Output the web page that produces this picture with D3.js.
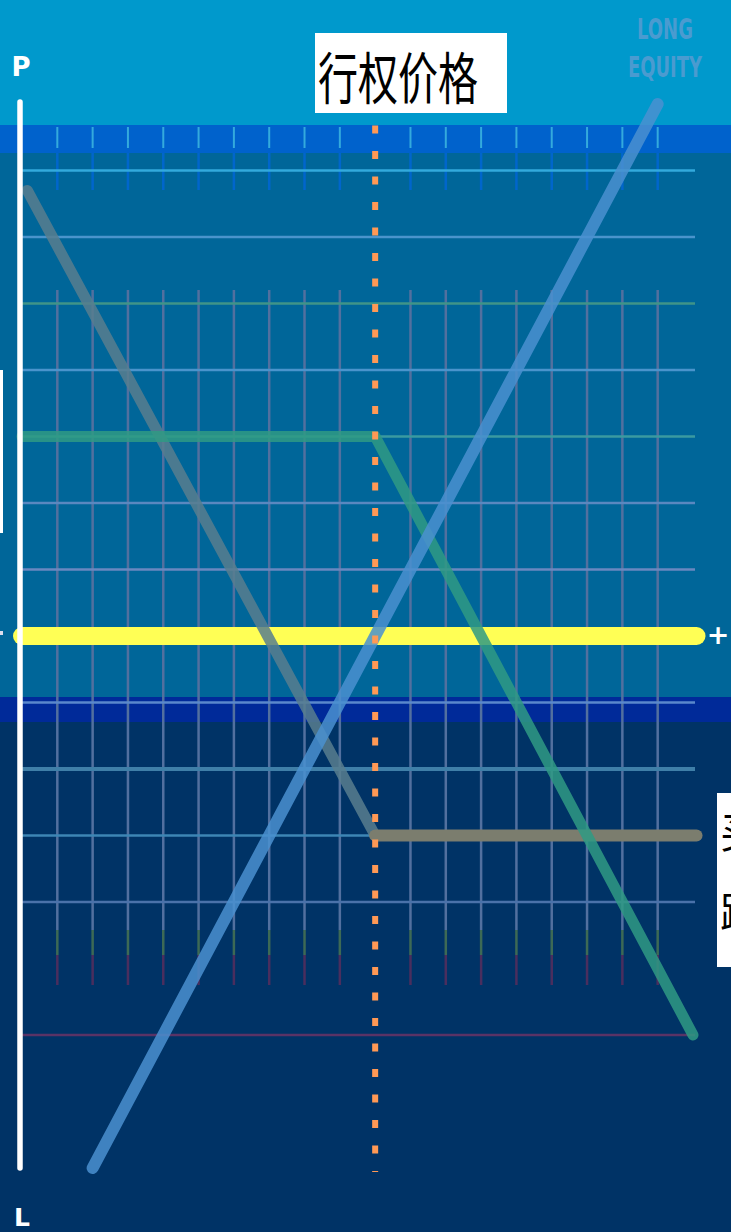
<!DOCTYPE html>
<html><head><meta charset="utf-8">
<script src="https://cdn.jsdelivr.net/npm/d3@7"></script>
<style>html,body{margin:0;padding:0;background:#003366;overflow:hidden}svg{display:block}</style>
</head><body>
<svg id="c" width="731" height="1232"></svg>
<script>
// ---- data ----
const priceTicks = [1,2,3,4,5,6,7,8,9,11,12,13,14,15,16,17,18];
const profitGrid = [7,6,5,4,3,2,1,-1,-2,-3,-4,-6];
const strike = 10;
const zeroLine = [{p:0,v:0},{p:19.1,v:0}];
const longEquity = [{p:2,v:-8},{p:18,v:8}];
const greenLine = [{p:0,v:3},{p:10,v:3},{p:19,v:-6}];
const brownDiag = [{p:0.15,v:6.7},{p:10,v:-3}];
const brownFlat = [{p:10,v:-3},{p:19.1,v:-3}];
const titleText = "行权价格";
const cornerText = ["LONG","EQUITY"];
const sideText = "买跌";

const svg = d3.select("#c");
const W = 731, H = 1232;
const x = d3.scaleLinear().domain([0,19]).range([22,693]);
const y = d3.scaleLinear().domain([-6,7]).range([1035,170.5]);

// ---- background bands ----
const bands = [
  {y0:0,y1:125,c:"#0099cc"},
  {y0:125,y1:153,c:"#0062cc"},
  {y0:153,y1:697,c:"#006699"},
  {y0:697,y1:722,c:"#002a99"},
  {y0:722,y1:1232,c:"#003366"}
];
svg.selectAll("rect.band").data(bands).join("rect")
  .attr("x",0).attr("width",W).attr("y",d=>d.y0).attr("height",d=>d.y1-d.y0).attr("fill",d=>d.c);

// ---- vertical grid ----
const vg = svg.append("g");
vg.selectAll("line.top").data(priceTicks).join("line")
  .attr("x1",d=>x(d)).attr("x2",d=>x(d)).attr("y1",127).attr("y2",148)
  .attr("stroke","#33aadd").attr("stroke-width",2);
vg.selectAll("line.mid").data(priceTicks).join("line")
  .attr("x1",d=>x(d)).attr("x2",d=>x(d)).attr("y1",153).attr("y2",190)
  .attr("stroke","#0066cc").attr("stroke-width",2.5);
vg.selectAll("line.main").data(priceTicks).join("line")
  .attr("x1",d=>x(d)).attr("x2",d=>x(d)).attr("y1",290).attr("y2",930)
  .attr("stroke","#52709f").attr("stroke-width",2.5);
vg.selectAll("line.g").data(priceTicks).join("line")
  .attr("x1",d=>x(d)).attr("x2",d=>x(d)).attr("y1",930).attr("y2",955)
  .attr("stroke","#3d6a55").attr("stroke-width",2.5);
vg.selectAll("line.pu").data(priceTicks).join("line")
  .attr("x1",d=>x(d)).attr("x2",d=>x(d)).attr("y1",955).attr("y2",985)
  .attr("stroke","#4a2e5e").attr("stroke-width",2.5);

// ---- horizontal grid ----
const hColors = {"7":"#33aadd","6":"#4a94cc","5":"#3f9488","4":"#4a94cc","3":"#3a9aa0","2":"#5a88c0","1":"#6a88c0",
  "-1":"#5a88cc","-2":"#3f7fa8","-3":"#3d86b5","-4":"#4a72aa","-6":"#5a3366"};
svg.append("g").selectAll("line").data(profitGrid).join("line")
  .attr("x1",x(0)).attr("x2",695).attr("y1",d=>y(d)).attr("y2",d=>y(d))
  .attr("stroke",d=>hColors[d]).attr("stroke-width",d=>d===-2?4:2.5);

// ---- left white box edge + marks ----
svg.append("rect").attr("x",-30).attr("y",370).attr("width",33).attr("height",163).attr("fill","#fff");
svg.append("rect").attr("x",-30).attr("y",373).attr("width",30).attr("height",157).attr("fill","#006699");
svg.append("rect").attr("x",0).attr("y",631).attr("width",3).attr("height",4).attr("fill","#dde");

// ---- payoff lines ----
const line = d3.line().x(d=>x(d.p)).y(d=>y(d.v));
svg.append("path").datum(zeroLine).attr("d",line).attr("fill","none")
  .attr("stroke","#ffff55").attr("stroke-width",18).attr("stroke-linecap","round");
svg.append("path").datum(brownDiag).attr("d",line).attr("fill","none")
  .attr("stroke","#587e8e").attr("stroke-width",11).attr("stroke-opacity",0.85).attr("stroke-linecap","round");
svg.append("path").datum(brownFlat).attr("d",line).attr("fill","none")
  .attr("stroke","#7b7d6e").attr("stroke-width",12).attr("stroke-linecap","round");
svg.append("path").datum(greenLine).attr("d",line).attr("fill","none")
  .attr("stroke","#2f9a84").attr("stroke-width",11).attr("stroke-opacity",0.85).attr("stroke-linejoin","round").attr("stroke-linecap","round");
svg.append("path").datum(longEquity).attr("d",line).attr("fill","none")
  .attr("stroke","#4a90d0").attr("stroke-width",12).attr("stroke-opacity",0.85).attr("stroke-linecap","round");

// ---- strike dotted line ----
svg.append("line").attr("x1",x(strike)).attr("x2",x(strike)).attr("y1",100).attr("y2",1172)
  .attr("stroke","#ff9955").attr("stroke-width",6).attr("stroke-dasharray","8,17.5");

// ---- left axis ----
svg.append("line").attr("x1",20).attr("x2",20).attr("y1",102).attr("y2",1168)
  .attr("stroke","#fff").attr("stroke-width",5.5).attr("stroke-linecap","round");
svg.append("text").attr("x",21).attr("y",76).attr("text-anchor","middle")
  .attr("font-family","DejaVu Sans").attr("font-weight","bold").attr("font-size",26).attr("fill","#fff").text("P");
svg.append("text").attr("x",22).attr("y",1226).attr("text-anchor","middle")
  .attr("font-family","DejaVu Sans").attr("font-weight","bold").attr("font-size",25).attr("fill","#fff").text("L");

// ---- plus sign right ----
svg.append("text").attr("x",718).attr("y",644).attr("text-anchor","middle")
  .attr("font-family","DejaVu Sans").attr("font-weight","bold").attr("font-size",27).attr("fill","#fff").text("+");

// ---- title ----
svg.append("rect").attr("x",315).attr("y",33).attr("width",192).attr("height",80).attr("fill","#fff");
svg.append("text").attr("transform","translate(318,99) scale(1,1.4)")
  .attr("font-family","Noto Sans CJK SC").attr("font-size",40).attr("fill","#000").text(titleText);

// ---- long equity label ----
svg.append("g").selectAll("text").data(cornerText).join("text")
  .attr("transform",(d,i)=>`translate(665,${39+i*38}) scale(0.8,1.15)`).attr("text-anchor","middle")
  .attr("font-family","Liberation Sans Narrow, DejaVu Sans Condensed, Liberation Sans").attr("font-weight","bold")
  .attr("font-size",25).attr("fill","#4a9bd0")
  .text(d=>d);

// ---- right side box (cropped by the frame, as in the reference) ----
svg.append("rect").attr("x",717).attr("y",793).attr("width",40).attr("height",174).attr("fill","#fff");
svg.append("g").selectAll("text").data(Array.from(sideText)).join("text")
  .attr("x",720).attr("y",(d,i)=>848+i*80)
  .attr("font-family","Noto Sans CJK SC").attr("font-size",42).attr("fill","#000").text(d=>d);
</script>
</body></html>
